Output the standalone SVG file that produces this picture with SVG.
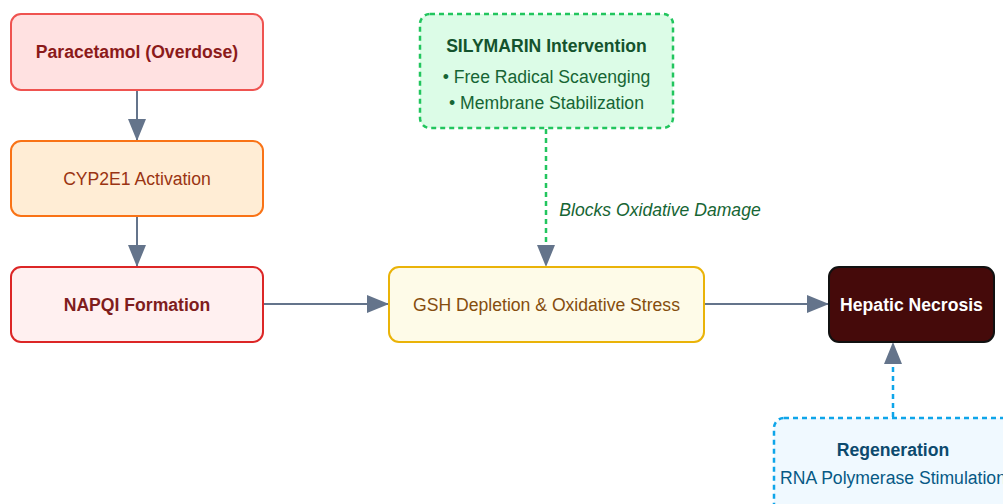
<svg xmlns="http://www.w3.org/2000/svg" width="1003" height="504" viewBox="0 0 1003 504">
<defs>
<marker id="ahb" viewBox="0 0 22 18" refX="22" refY="9" markerWidth="22" markerHeight="18" markerUnits="userSpaceOnUse" orient="auto">
<path d="M0,0 L22,9 L0,18 z" fill="#64748b"/>
</marker>
</defs>
<style>
text{font-family:"Liberation Sans",Arial,sans-serif;font-size:17.6px;text-anchor:middle;dominant-baseline:central}
.b{font-weight:bold}
.conn{fill:none;stroke:#64748b;stroke-width:2}
</style>
<rect width="1003" height="504" fill="#ffffff"/>
<g id="connectors">
<line class="conn" x1="137" y1="90" x2="137" y2="141" marker-end="url(#ahb)"/>
<line class="conn" x1="137" y1="216" x2="137" y2="267" marker-end="url(#ahb)"/>
<line class="conn" x1="263" y1="304" x2="389" y2="304" marker-end="url(#ahb)"/>
<line class="conn" x1="704" y1="304" x2="829" y2="304" marker-end="url(#ahb)"/>
<line x1="546" y1="129" x2="546" y2="246" stroke="#22c55e" stroke-width="2.5" stroke-dasharray="5,4"/>
<path d="M537,245 L555,245 L546,267 z" fill="#64748b"/>
<text x="660" y="210" style="font-style:italic;fill:#166534">Blocks Oxidative Damage</text>
<line x1="893" y1="417" x2="893" y2="363" stroke="#0ea5e9" stroke-width="2.5" stroke-dasharray="5,4"/>
<path d="M884,364 L902,364 L893,342 z" fill="#64748b"/>
</g>
<g id="paracetamol">
<rect x="11" y="14" width="252" height="76" rx="10" fill="#ffe1e1" stroke="#ef5350" stroke-width="2"/>
<text x="137" y="52" class="b" fill="#8b1a1a">Paracetamol (Overdose)</text>
</g>
<g id="cyp2e1">
<rect x="11" y="141" width="252" height="75" rx="10" fill="#ffedd5" stroke="#f97316" stroke-width="2"/>
<text x="137" y="178.5" fill="#9a3412">CYP2E1 Activation</text>
</g>
<g id="napqi">
<rect x="11" y="267" width="252" height="75" rx="10" fill="#fff0f0" stroke="#dc2626" stroke-width="2"/>
<text x="137" y="304.5" class="b" fill="#7f1d1d">NAPQI Formation</text>
</g>
<g id="gsh">
<rect x="389" y="267" width="315" height="75" rx="10" fill="#fefbe8" stroke="#eab308" stroke-width="2"/>
<text x="546.5" y="304.5" fill="#854d0e">GSH Depletion &amp; Oxidative Stress</text>
</g>
<g id="necrosis">
<rect x="829" y="267" width="165" height="75" rx="10" fill="#450a0a" stroke="#111111" stroke-width="2"/>
<text x="911.5" y="304.5" class="b" fill="#ffffff">Hepatic Necrosis</text>
</g>
<g id="silymarin">
<rect x="420" y="14" width="253" height="114" rx="10" fill="#dcfce7" stroke="#22c55e" stroke-width="2.5" stroke-dasharray="5,4"/>
<text x="546.5" y="46" class="b" fill="#14532d">SILYMARIN Intervention</text>
<text x="546.5" y="77" fill="#166534">• Free Radical Scavenging</text>
<text x="546.5" y="103" fill="#166534">• Membrane Stabilization</text>
</g>
<g id="regeneration">
<rect x="774" y="418" width="240" height="100" rx="10" fill="#f0f9ff" stroke="#0ea5e9" stroke-width="2.5" stroke-dasharray="5,4"/>
<text x="893" y="450" class="b" fill="#0c4a6e">Regeneration</text>
<text x="893" y="478" fill="#075985">RNA Polymerase Stimulation</text>
</g>
</svg>
